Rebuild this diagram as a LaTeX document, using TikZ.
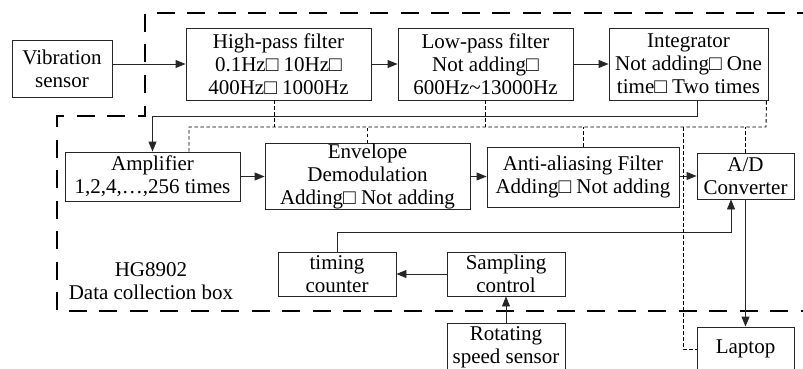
\documentclass[tikz,border=0pt]{standalone}
\usepackage{fontspec}
\setmainfont{Liberation Serif}
\usetikzlibrary{arrows.meta}
\begin{document}
\begin{tikzpicture}[x=1pt,y=-1pt,
  blk/.style={draw=black!85,line width=0.9pt,rectangle,inner sep=0pt,align=center,
    font=\fontsize{21}{23}\selectfont},
  arr/.style={draw=black!85,line width=0.9pt,-{Triangle[length=10pt,width=8pt]}},
  ctl/.style={draw=black,line width=0.9pt,dash pattern=on 3.5pt off 2.5pt},
  bigdash/.style={line width=2.6pt,dash pattern=on 18pt off 12.5pt},
  lbl/.style={align=center,inner sep=0pt,font=\fontsize{21}{23}\selectfont}]
\useasboundingbox (0,0) rectangle (803,369);
\clip (0,0) rectangle (803,369);
% outer dashed boundary
\draw[bigdash] (815,13) -- (145,13) -- (145,116) -- (57,116) -- (57,311) -- (815,311);
% blocks
\node[blk,minimum width=100pt,minimum height=57pt] (vib) at (62,68.5) {Vibration\\sensor};
\node[blk,minimum width=185pt,minimum height=72pt] (hpf) at (278.5,64) {High-pass filter\\0.1Hz□ 10Hz□\\400Hz□ 1000Hz};
\node[blk,minimum width=175pt,minimum height=72pt] (lpf) at (485.5,64) {Low-pass filter\\Not adding□\\600Hz\char`\~13000Hz};
\node[blk,minimum width=159pt,minimum height=72pt] (integ) at (688.5,64) {Integrator\\Not adding□ One\\time□ Two times};
\node[blk,minimum width=175pt,minimum height=49pt] (amp) at (152.5,176.5) {Amplifier\\1,2,4,…,256 times};
\node[blk,minimum width=205pt,minimum height=65pt] (env) at (367.5,176.5) {Envelope\\Demodulation\\Adding□ Not adding};
\node[blk,minimum width=192pt,minimum height=60pt] (anti) at (583,177) {Anti-aliasing Filter\\Adding□ Not adding};
\node[blk,minimum width=97pt,minimum height=46pt] (ad) at (745.5,176) {A/D\\Converter};
\node[blk,minimum width=118pt,minimum height=44pt] (timing) at (337,274) {timing\\counter};
\node[blk,minimum width=118pt,minimum height=44pt] (samp) at (506,274) {Sampling\\control};
\node[blk,minimum width=118pt,minimum height=49pt] (rot) at (506,347.5) {Rotating\\speed sensor};
\node[blk,minimum width=97pt,minimum height=44pt] (lap) at (745.5,349) {Laptop};
\node[lbl] (hg) at (151,281) {HG8902\\Data collection box};
% solid connectors
\draw[arr] (vib.east |- hpf.west) -- (hpf.west);
\draw[arr] (hpf.east) -- (lpf.west);
\draw[arr] (lpf.east) -- (integ.west);
\draw[arr] ([xshift=8.5pt]integ.south) -- ++(0,16) -| (amp.north);
\draw[arr] (amp.east) -- (env.west);
\draw[arr] (env.east) -- (anti.west |- env.east);
\draw[arr] (anti.east |- ad.west) -- (ad.west);
\draw[arr] (samp.west) -- (timing.east);
\draw[arr] (rot.north) -- (samp.south);
\draw[arr] (timing.north) -- ++(0,-19) -| ([xshift=-14.5pt]ad.south);
\draw[arr] (ad.south) -- (lap.north);
% control bus (dashed)
\coordinate (bl) at (189,127);
\coordinate (br) at (766,127);
\coordinate (h1) at ([xshift=-4.5pt]hpf.south);
\coordinate (a1) at ([xshift=36.5pt]amp.north);
\coordinate (lt) at (683,127);
\draw[ctl] (a1) -- (bl) -- (br) -- ([xshift=-2pt]integ.south east);
\draw[ctl] (h1) -- (h1 |- bl);
\draw[ctl] (lpf.south) -- (lpf.south |- bl);
\draw[ctl] (env.north) -- (env.north |- bl);
\draw[ctl] (anti.north) -- (anti.north |- bl);
\draw[ctl] (ad.north) -- (ad.north |- bl);
\draw[ctl] (lt) |- (lap.west);
\end{tikzpicture}
\end{document}
